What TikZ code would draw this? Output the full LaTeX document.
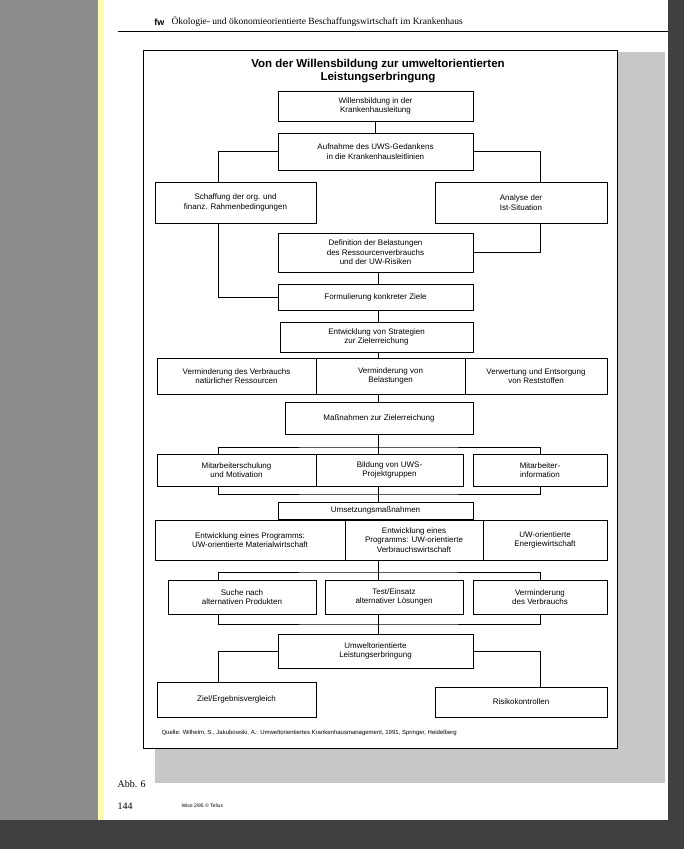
\documentclass[tikz,border=0pt]{standalone}
\usepackage{fontspec}
\setmainfont{Liberation Sans}
\newfontfamily\serif{Liberation Serif}
\begin{document}
\begin{tikzpicture}[x=1pt,y=1pt,
  box/.style={draw,line width=0.9pt,fill=white,inner sep=1pt,align=center,font=\fontsize{8}{9.4}\selectfont},
  conn/.style={line width=0.7pt}]
\useasboundingbox (0,0) rectangle (684,-849);
% page & background
\fill[black!75] (0,0) rectangle (684,-849);
\fill[black!45] (0,0) rectangle (98,-820);
\fill[white] (98,0) rectangle (668,-820);
\fill[yellow!30] (98,0) rectangle (104,-820);
\fill[black!22] (155,-52) rectangle (665,-783);
\node[font=\serif\fontsize{9.5}{11}\selectfont,anchor=west] (hdr) at (168,-22) {Ökologie- und ökonomieorientierte Beschaffungswirtschaft im Krankenhaus};
\node[font=\bfseries\fontsize{9}{10}\selectfont,anchor=east] (logo) at (hdr.west) {fw};
\draw[line width=0.8pt] (118,-31) -- (668,-31);
\node[draw,line width=0.8pt,fill=white,minimum width=474pt,minimum height=698pt] (frame) at (380,-399) {};
\node[font=\bfseries\fontsize{11.5}{13}\selectfont,align=center] (title) at (378,-71) {Von der Willensbildung zur umweltorientierten\\Leistungserbringung};
\newcommand\bx[6]{\node[box,minimum width={(#4-#2)*1pt},minimum height={(#5-#3)*1pt}] (#1) at ({(#2+#4)/2},{-(#3+#5)/2}) {#6};}
\bx{a}{278}{91}{473}{121}{Willensbildung in der\\Krankenhausleitung}
\bx{b}{278}{133}{473}{170}{Aufnahme des UWS-Gedankens\\in die Krankenhausleitlinien}
\bx{c}{155}{182}{316}{223}{Schaffung der org. und\\finanz. Rahmenbedingungen}
\bx{d}{435}{182}{607}{223}{Analyse der\\Ist-Situation}
\bx{e}{278}{233}{473}{272}{Definition der Belastungen\\des Ressourcenverbrauchs\\und der UW-Risiken}
\bx{f}{278}{284}{473}{310}{Formulierung konkreter Ziele}
\bx{g}{280}{322}{473}{352}{Entwicklung von Strategien\\zur Zielerreichung}
\bx{h1}{157}{358}{316}{394}{Verminderung des Verbrauchs\\natürlicher Ressourcen}
\bx{h2}{316}{358}{465}{394}{Verminderung von\\Belastungen}
\bx{h3}{465}{358}{607}{394}{Verwertung und Entsorgung\\von Reststoffen}
\bx{i}{285}{402}{473}{434}{Maßnahmen zur Zielerreichung}
\bx{j1}{157}{454}{316}{486}{Mitarbeiterschulung\\und Motivation}
\bx{j2}{316}{454}{463}{486}{Bildung von UWS-\\Projektgruppen}
\bx{j3}{473}{454}{607}{486}{Mitarbeiter-\\information}
\bx{k}{278}{502}{473}{519}{Umsetzungsmaßnahmen}
\bx{l1}{155}{520}{345}{560}{Entwicklung eines Programms:\\UW-orientierte Materialwirtschaft}
\bx{l2}{345}{520}{483}{560}{Entwicklung eines\\Programms: UW-orientierte\\Verbrauchswirtschaft}
\bx{l3}{483}{520}{607}{560}{UW-orientierte\\Energiewirtschaft}
\bx{m1}{168}{580}{316}{614}{Suche nach\\alternativen Produkten}
\bx{m2}{325}{580}{463}{614}{Test/Einsatz\\alternativer Lösungen}
\bx{m3}{473}{580}{607}{614}{Verminderung\\des Verbrauchs}
\bx{n}{278}{634}{473}{668}{Umweltorientierte\\Leistungserbringung}
\bx{o1}{157}{682}{316}{717}{Ziel/Ergebnisvergleich}
\bx{o2}{435}{687}{607}{717}{Risikokontrollen}
\coordinate (xl) at (218,0); \coordinate (xr) at (540,0); \coordinate (xm) at (378,0);
\begin{scope}[conn]
\draw (a) -- (b);
\draw (b.west) -| (c.north -| xl);
\draw (b.east) -| (d.north -| xr);
\draw (c.south -| xl) |- (f.west);
\draw (d.south -| xr) |- (e.east);
\draw (e.south -| xm) -- (f.north -| xm);
\draw (f.south -| xm) -- (g.north -| xm);
\draw (g.south -| xm) -- (h2.north -| xm);
\draw (h2.south -| xm) -- (i.north -| xm);
\coordinate (r1) at (378,-447);
\draw (i.south -| xm) -- (r1);
\draw (j1.north -| xl) |- (r1) -| (j3.north -| xr);
\draw (r1) -- (j2.north -| xm);
\coordinate (r2) at (378,-494);
\draw (j1.south -| xl) |- (r2) -| (j3.south -| xr);
\draw (j2.south -| xm) -- (k.north -| xm);
\coordinate (r3) at (378,-572);
\draw (l2.south -| xm) -- (r3);
\draw (m1.north -| xl) |- (r3) -| (m3.north -| xr);
\draw (r3) -- (m2.north -| xm);
\coordinate (r4) at (378,-624);
\draw (m1.south -| xl) |- (r4) -| (m3.south -| xr);
\draw (m2.south -| xm) -- (n.north -| xm);
\draw (n.west) -| (o1.north -| xl);
\draw (n.east) -| (o2.north -| xr);
\end{scope}
\node[font=\fontsize{6}{7}\selectfont,anchor=west] (src) at (158,-733) {Quelle: Wilhelm, S., Jakubowski, A.: Umweltorientiertes Krankenhausmanagement, 1991, Springer, Heidelberg};
\node[font=\serif\fontsize{10}{11}\selectfont,anchor=west] (abb) at (114,-784) {Abb. 6};
\node[font=\serif\fontsize{10}{11}\selectfont,anchor=west] (pg) at (114,-806) {144};
\node[font=\fontsize{5}{6}\selectfont,anchor=west] (ft) at (178,-806) {Wiso 2/95 © Tellus};
\end{tikzpicture}
\end{document}
